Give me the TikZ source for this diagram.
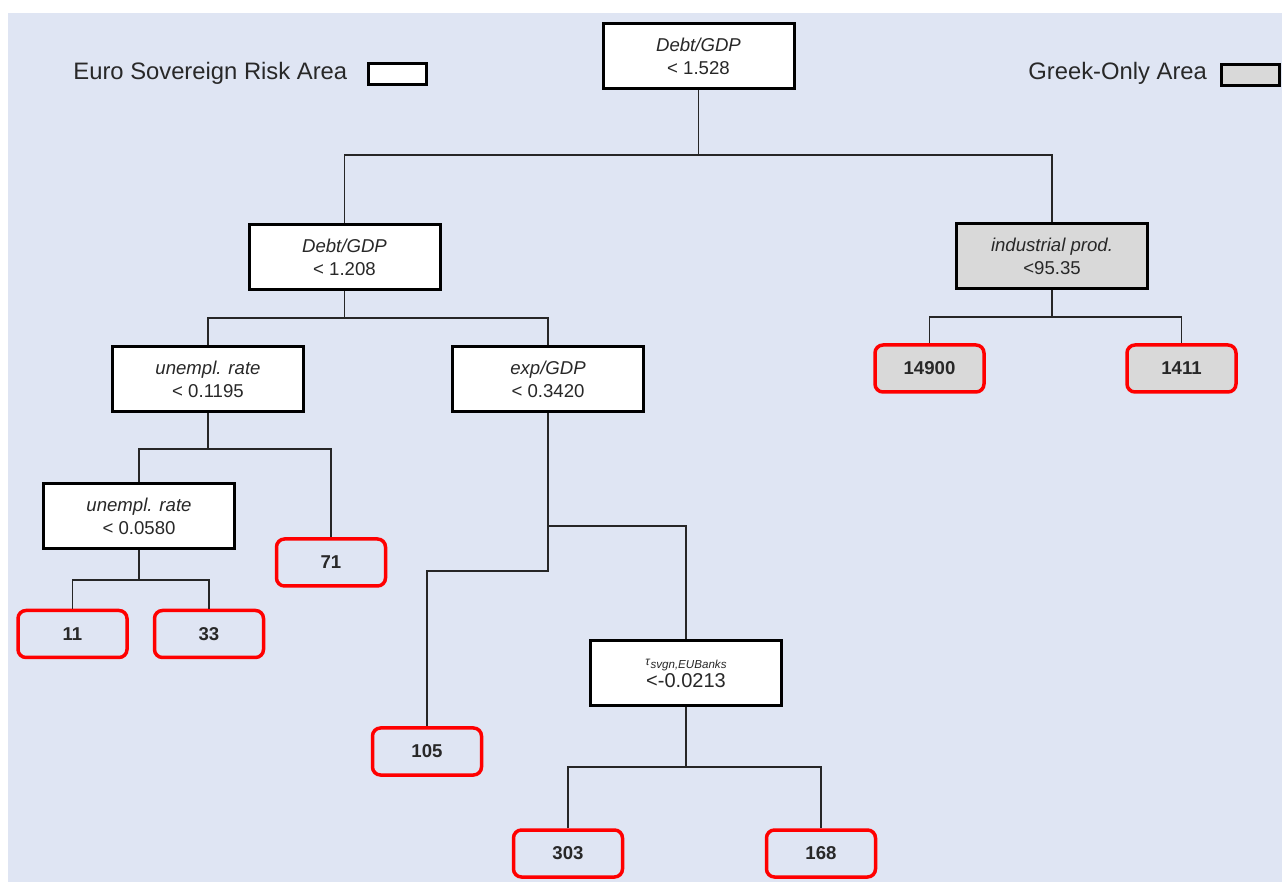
\documentclass[tikz,border=0pt]{standalone}
\usepackage{fontspec}
\setmainfont{Liberation Sans}
\definecolor{bgc}{RGB}{223,229,243}
\definecolor{grayfill}{RGB}{217,217,217}
\definecolor{txt}{RGB}{40,40,40}
\begin{document}
\begin{tikzpicture}[x=0.5pt,y=-0.5pt,
  splitbox/.style={draw=black, line width=1.5pt, fill=white, align=center, inner sep=0pt,
     minimum width=95.5pt, minimum height=32.5pt, text=txt, font=\fontsize{9.3}{11.5}\selectfont},
  leafbox/.style={draw=red, line width=1.75pt, rounded corners=4pt, inner sep=0pt,
     minimum width=54.5pt, minimum height=23.5pt, text=txt, font=\fontsize{9.3}{10}\selectfont\bfseries},
  greek/.style={fill=grayfill},
  conn/.style={draw=black!85, line width=0.8pt},
  legendtext/.style={inner sep=0pt, text=txt, font=\fontsize{11.9}{14}\selectfont},
  legendbox/.style={draw=black, line width=1.5pt, inner sep=0pt, minimum width=29pt, minimum height=10.5pt}
]
\useasboundingbox (0,0) rectangle (1282,882);
\fill[bgc] (8,13) rectangle (1282,882);

% legend
\node[legendtext, anchor=west] (leg1t) at (73,73) {Euro Sovereign Risk Area};
\node[legendbox, fill=white] (leg1b) at (397,74) {};
\node[legendtext, anchor=west] (leg2t) at (1028,73) {Greek-Only Area};
\node[legendbox, fill=grayfill] (leg2b) at (1250,75) {};

% split nodes
\node[splitbox] (root) at (698.5,56) {\textit{Debt/GDP}\\< 1.528};
\node[splitbox] (d2) at (344.5,257) {\textit{Debt/GDP}\\< 1.208};
\node[splitbox, greek] (ind) at (1052,256.5) {\textit{industrial prod.}\\<95.35};
\node[splitbox] (un1) at (208,379) {\textit{unempl. rate}\\< 0.1195};
\node[splitbox] (exp) at (548,379) {\textit{exp/GDP}\\< 0.3420};
\node[splitbox] (un2) at (139,516) {\textit{unempl. rate}\\< 0.0580};
\node[splitbox] (tau) at (686,673) {{\fontsize{6}{6}\selectfont\textit{τ}\raisebox{-0.5ex}{\fontsize{5.8}{6}\selectfont\textit{svgn,EUBanks}}}\\[-0.5pt]{\fontsize{10}{11}\selectfont <-0.0213}};

% leaves
\node[leafbox, greek] (l14900) at (929.5,368.5) {14900};
\node[leafbox, greek] (l1411) at (1181.5,368.5) {1411};
\node[leafbox] (l71) at (331,562.5) {71};
\node[leafbox] (l11) at (72.5,634) {11};
\node[leafbox] (l33) at (209,634) {33};
\node[leafbox] (l105) at (427,751.5) {105};
\node[leafbox] (l303) at (568,853.5) {303};
\node[leafbox] (l168) at (821,853.5) {168};

% junctions
\coordinate (j1) at (698.5,155);
\coordinate (j2) at (344.5,318);
\coordinate (ji) at (1052,317);
\coordinate (j3) at (208,449);
\coordinate (j4) at (139,580);
\coordinate (je1) at (548,526);
\coordinate (je2) at (548,571);
\coordinate (jt) at (686,767);

% connectors
\draw[conn] (root.south) -- (j1);
\draw[conn] (d2.north) |- (j1) -| (ind.north);
\draw[conn] (d2.south) -- (j2);
\draw[conn] (un1.north) |- (j2) -| (exp.north);
\draw[conn] (ind.south) -- (ji);
\draw[conn] (l14900.north) |- (ji) -| (l1411.north);
\draw[conn] (un1.south) -- (j3);
\draw[conn] (un2.north) |- (j3) -| (l71.north);
\draw[conn] (un2.south) -- (j4);
\draw[conn] (l11.north) |- (j4) -| (l33.north);
\draw[conn] (exp.south) -- (je2) -| (l105.north);
\draw[conn] (je1) -| (tau.north);
\draw[conn] (tau.south) -- (jt);
\draw[conn] (l303.north) |- (jt) -| (l168.north);
\end{tikzpicture}
\end{document}
